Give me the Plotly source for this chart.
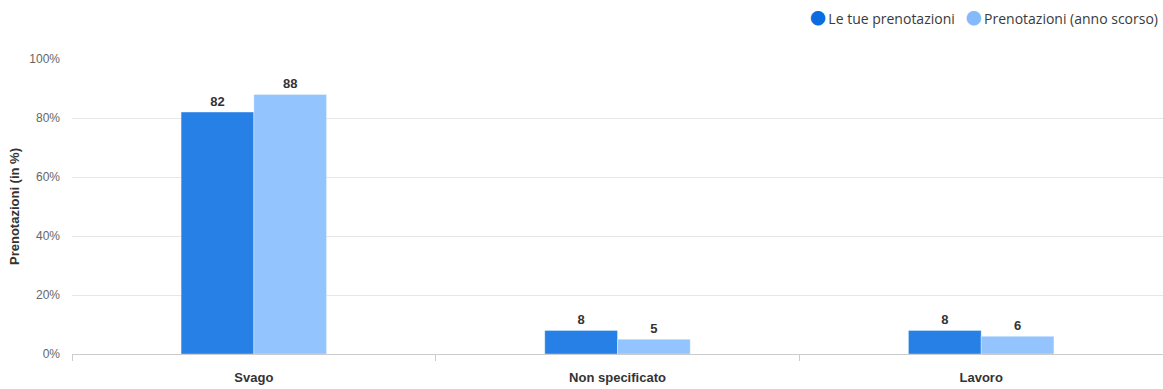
import plotly.graph_objects as go

categories = ["Svago", "Non specificato", "Lavoro"]
series_names = ["Le tue prenotazioni", "Prenotazioni (anno scorso)"]
yours = [82, 8, 8]
last_year = [88, 5, 6]
y_ticks = [0, 20, 40, 60, 80, 100]
y_tick_labels = ["0%", "20%", "40%", "60%", "80%", "100%"]

bar_colors = ["#2680E6", "#93C4FD"]
legend_colors = ["#0B6BE0", "#84B9FB"]

fig = go.Figure()
for name, vals, col in zip(series_names, [yours, last_year], bar_colors):
    fig.add_trace(go.Bar(
        x=categories, y=vals, name=name, showlegend=False,
        marker=dict(color=col, line=dict(color="rgba(255,255,255,0.35)", width=1)),
        text=[str(v) for v in vals], textposition="outside",
        textfont=dict(family="Liberation Sans, Arial", size=13, color="#333333"),
        texttemplate="<b>%{text}</b>", cliponaxis=False,
    ))

# legend rendered as text with coloured dots
legend_parts = []
for name, col in zip(series_names, legend_colors):
    legend_parts.append(
        "<span style=\"color:%s;font-family:'Noto Sans CJK JP';font-size:16px\">●</span>&#8201;%s"
        % (col, name))
legend_text = "&nbsp;&nbsp;&nbsp;".join(legend_parts)
fig.add_annotation(
    text=legend_text, xref="paper", yref="paper", x=1, y=1,
    xanchor="right", yanchor="middle", xshift=-3, yshift=42, showarrow=False,
    font=dict(family="Open Sans, Noto Sans", size=14, color="#3a3a3a"),
)

fig.update_layout(
    width=1163, height=389,
    margin=dict(l=72, r=0, t=59, b=35),
    paper_bgcolor="white", plot_bgcolor="white",
    barmode="group", bargap=0.6, bargroupgap=0,
    showlegend=False,
    xaxis=dict(
        tickson="boundaries", ticks="outside", ticklen=6, tickcolor="#cccccc",
        showline=True, linecolor="#cccccc", linewidth=1,
        tickfont=dict(family="Liberation Sans, Arial", size=13, color="#333333"),
        tickvals=categories, ticktext=["<b>%s</b>" % c for c in categories],
        showgrid=False, ticklabelstandoff=11,
    ),
    yaxis=dict(
        range=[0, 100], tickvals=y_ticks, ticktext=y_tick_labels,
        gridcolor="#e6e6e6", zeroline=False,
        tickfont=dict(family="Liberation Sans, Arial", size=12, color="#666666"),
        title=dict(text="<b>Prenotazioni (in %)</b>",
                   font=dict(family="Liberation Sans, Arial", size=13, color="#333333"),
                   standoff=6),
        ticklabelstandoff=11,
    ),
)
fig.write_html("out.html")
